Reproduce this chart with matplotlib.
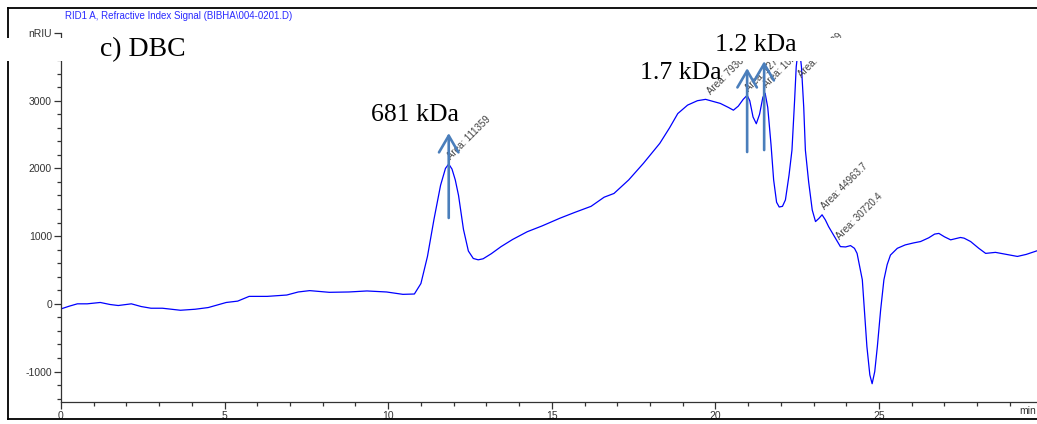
import matplotlib
matplotlib.use("Agg")
import matplotlib.pyplot as plt
from matplotlib.patches import Rectangle
from matplotlib.lines import Line2D

plt.rcParams["font.family"] = ["Liberation Sans", "DejaVu Sans"]

# RI detector trace (min, nRIU)
time_min = [0.0, 0.25, 0.5, 0.8, 1.2, 1.5, 1.75, 2.15, 2.45, 2.75, 3.1, 3.65, 4.1, 4.5,
            5.05, 5.4, 5.75, 6.3, 6.9, 7.25, 7.6, 8.2, 8.8, 9.35, 9.95, 10.45, 10.8,
            11.0, 11.2, 11.4, 11.6, 11.75, 11.85, 11.95, 12.05, 12.15, 12.3, 12.45, 12.6,
            12.75, 12.9, 13.15, 13.45, 13.8, 14.25, 14.7, 15.25, 15.7, 16.2, 16.6, 16.9,
            17.35, 17.8, 18.3, 18.6, 18.85, 19.15, 19.45, 19.7, 20.15, 20.4, 20.55, 20.7,
            20.85, 20.97, 21.05, 21.15, 21.25, 21.35, 21.45, 21.52, 21.6, 21.7, 21.78,
            21.87, 21.95, 22.05, 22.14, 22.25, 22.34, 22.42, 22.47, 22.55, 22.63, 22.7,
            22.75, 22.85, 22.96, 23.06, 23.16, 23.26, 23.36, 23.46, 23.57, 23.67, 23.82,
            23.98, 24.13, 24.25, 24.33, 24.43, 24.49, 24.63, 24.72, 24.79, 24.87, 24.95,
            25.05, 25.15, 25.25, 25.35, 25.56, 25.8, 26.06, 26.27, 26.52, 26.7, 26.83,
            27.0, 27.19, 27.49, 27.6, 27.8, 28.05, 28.26, 28.56, 28.9, 29.23, 29.5, 29.84]
signal_nriu = [-75, -35, 0, 0, 20, -10, -25, 0, -40, -65, -65, -95, -80, -55,
               20, 40, 110, 110, 130, 175, 195, 170, 175, 190, 175, 140, 145,
               300, 700, 1250, 1750, 2000, 2065, 1990, 1830, 1600, 1100, 780, 670,
               650, 665, 740, 845, 950, 1065, 1150, 1265, 1350, 1440, 1575, 1630,
               1830, 2075, 2370, 2600, 2810, 2935, 3000, 3020, 2960, 2900, 2860, 2920,
               3020, 3080, 3000, 2760, 2660, 2800, 3050, 3110, 2900, 2350, 1830,
               1500, 1430, 1440, 1535, 1900, 2270, 3000, 3500, 3850, 3500, 2900,
               2270, 1800, 1385, 1215, 1260, 1315, 1240, 1140, 1050, 970, 845,
               840, 860, 820, 745, 500, 355, -630, -1050, -1180, -1000, -630,
               -90, 355, 580, 720, 820, 870, 900, 920, 975, 1030, 1040,
               990, 945, 980, 970, 920, 820, 745, 760, 730, 700, 730, 785]

# integration labels (anchor time, anchor signal, text)
area_x = [11.97, 19.90, 21.06, 21.61, 22.68, 23.40, 23.86]
area_y = [2100, 3060, 3115, 3160, 3310, 1365, 920]
area_text = ["Area: 111359", "Area: 79364.6", "Area: 12741.5", "Area: 10233.8",
             "Area: 186529", "Area: 44963.7", "Area: 30720.4"]

# molecular weight arrows (time, tail, tip)
mw_x = [11.85, 20.97, 21.49]
mw_tail = [1268, 2242, 2271]
mw_tip = [2522, 3481, 3584]

W, H = 1037, 424
fig = plt.figure(figsize=(W / 100, H / 100), dpi=100)

x_scale = 32.72   # px per minute
ax_left, ax_bottom_px, ax_top_px = 61, 402, 33
ax = fig.add_axes([ax_left / W, (H - ax_bottom_px) / H,
                   30 * x_scale / W, (ax_bottom_px - ax_top_px) / H])
ax.plot(time_min, signal_nriu, color="#0000ff", lw=0.9)
ax.set_xlim(0, 30)
ax.set_ylim(-1450, 4000)

for s in ["top", "right"]:
    ax.spines[s].set_visible(False)
for s in ["left", "bottom"]:
    ax.spines[s].set_color("#333333")
    ax.spines[s].set_linewidth(0.9)

ax.set_xticks([0, 5, 10, 15, 20, 25])
ax.set_xticks(range(0, 30), minor=True)
ax.set_yticks([-1000, 0, 1000, 2000, 3000, 4000])
ax.set_yticklabels(["-1000", "0", "1000", "2000", "3000", "nRIU"])
ax.set_yticks(range(-1400, 4000, 200), minor=True)
ax.tick_params(axis="both", which="major", length=5, width=0.9, color="#333333",
               labelsize=7.5, labelcolor="#333333", pad=1.5)
ax.tick_params(axis="both", which="minor", length=3, width=0.9, color="#333333")
fig.text(1 - 1 / W, 1 - 406 / H, "min", ha="right", va="top", fontsize=7.5,
         color="#333333")

for x, y, t in zip(area_x, area_y, area_text):
    ax.text(x, y, t, rotation=45, rotation_mode="anchor", ha="left", va="bottom",
            fontsize=7, color="#404040", clip_on=True)

for x, y0, y1 in zip(mw_x, mw_tail, mw_tip):
    ax.annotate("", xy=(x, y1), xytext=(x, y0),
                arrowprops=dict(arrowstyle="->,head_length=1.2,head_width=0.7",
                                lw=1.9, color="#4a7ebb", mutation_scale=10,
                                shrinkA=0, shrinkB=0))

# outer frame
frame_kw = dict(color="black", lw=1.3, transform=fig.transFigure)
fig.add_artist(Line2D([8 / W, 1], [1 - 8 / H, 1 - 8 / H], **frame_kw))
fig.add_artist(Line2D([8 / W, 8 / W], [1 - 8 / H, 1 - 419 / H], **frame_kw))
fig.add_artist(Line2D([8 / W, 1], [1 - 419 / H, 1 - 419 / H], **frame_kw))

# pasted white strip across the top
fig.add_artist(Rectangle((0, 1 - 61 / H), 1, 23 / H, transform=fig.transFigure,
                         facecolor="white", edgecolor="none", zorder=5))

fig.text(65 / W, 1 - 16 / H, "RID1 A, Refractive Index Signal (BIBHA\\004-0201.D)",
         color="#2a2aff", fontsize=7, ha="left", va="center")

serif = dict(family="Liberation Serif", color="black", ha="left", va="baseline", zorder=6)
fig.text(100 / W, 1 - 56 / H, "c) DBC", fontsize=20, **serif)
fig.text(371 / W, 1 - 121 / H, "681 kDa", fontsize=18.5, **serif)
fig.text(640 / W, 1 - 79 / H, "1.7 kDa", fontsize=18.5, **serif)
fig.text(715 / W, 1 - 51 / H, "1.2 kDa", fontsize=18.5, **serif)

fig.savefig("out.png", dpi=100)
